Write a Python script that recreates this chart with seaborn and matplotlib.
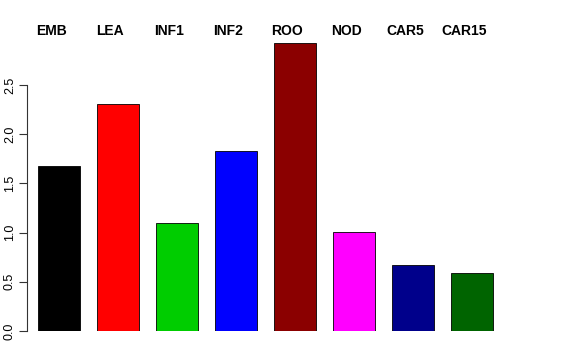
import seaborn as sns
import matplotlib.pyplot as plt
import matplotlib.transforms as mtransforms
import pandas as pd

# Values
tissues = ['EMB', 'LEA', 'INF1', 'INF2', 'ROO', 'NOD', 'CAR5', 'CAR15']
values = [1.675, 2.305, 1.10, 1.825, 2.925, 1.005, 0.675, 0.59]
colors = ['#000000', '#FF0000', '#00CD00', '#0000FF', '#8B0000', '#FF00FF', '#00008B', '#006400']

df = pd.DataFrame({'tissue': tissues, 'value': values})

sns.set_style("white")
plt.rcParams['font.family'] = ['Liberation Sans', 'DejaVu Sans']
plt.rcParams['text.color'] = 'black'
plt.rcParams['ytick.color'] = 'black'

fig = plt.figure(figsize=(5.76, 3.6), dpi=100)
ax = fig.add_axes([27 / 576, 0.0806, 493 / 576, 0.806])

bar_w = 0.71
sns.barplot(data=df, x='tissue', y='value', hue='tissue', palette=dict(zip(tissues, colors)),
            width=bar_w, saturation=1, edgecolor='black', linewidth=0.6, legend=False, ax=ax)

ax.set_xlim(-0.542, 7.814)
ax.set_ylim(0, 2.95)
ax.set_xlabel('')
ax.set_ylabel('')
ax.set_xticks([])
ax.set_yticks([0.0, 0.5, 1.0, 1.5, 2.0, 2.5])
ax.set_yticklabels(['0.0', '0.5', '1.0', '1.5', '2.0', '2.5'], rotation=90, va='center', fontsize=9)
ax.tick_params(axis='y', left=True, length=6, width=0.8, color='#333333', pad=2)
for side in ['top', 'right', 'bottom']:
    ax.spines[side].set_visible(False)
ax.spines['left'].set_bounds(0, 2.5)
ax.spines['left'].set_color('#333333')
ax.spines['left'].set_linewidth(0.8)

# tissue labels along the top, a little left of each bar's centre
trans = mtransforms.blended_transform_factory(ax.transData, fig.transFigure)
for i, name in enumerate(tissues):
    ax.text(i - 0.13, 0.914, name, transform=trans, ha='center', va='center',
            fontsize=10, fontweight='bold', clip_on=False)

fig.savefig("out.png", dpi=100)
